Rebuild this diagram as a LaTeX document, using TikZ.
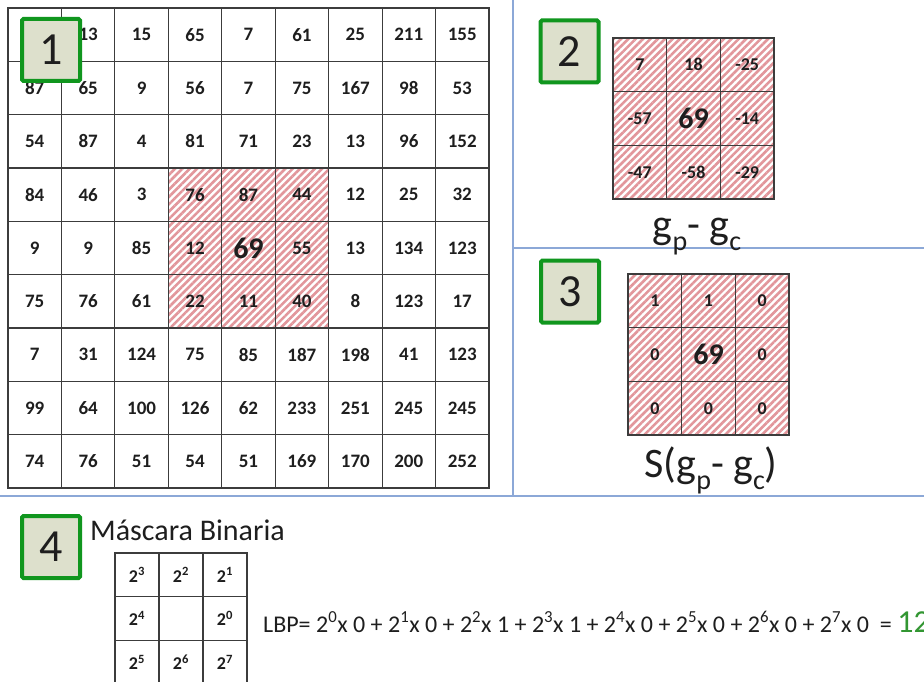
\documentclass[tikz,border=0pt]{standalone}
\usepackage{fontspec}
\setmainfont{Carlito}
\usetikzlibrary{patterns.meta}
\definecolor{gridline}{RGB}{60,60,60}
\definecolor{hatch}{RGB}{226,150,155}
\definecolor{sepblue}{RGB}{140,168,215}
\definecolor{labgreen}{RGB}{16,150,30}
\definecolor{labfill}{RGB}{221,224,204}
\definecolor{resgreen}{RGB}{50,150,50}
\definecolor{ink}{RGB}{30,30,30}
\newcommand\bignum[1]{{\fontsize{30}{30}\selectfont #1}}
\newcommand\pw[1]{2\textsuperscript{#1}}
\newcommand\lowsub[1]{\raisebox{-0.3em}{\fontsize{28}{28}\selectfont #1}}
\tikzset{
 cellA/.style={draw=gridline, line width=1.1pt, minimum width=53.44pt, minimum height=53.33pt, inner sep=0pt, text=ink, font=\fontsize{19}{19}\selectfont\bfseries},
 cellB/.style={draw=gridline, line width=1.1pt, minimum width=53.67pt, minimum height=53.67pt, inner sep=0pt, text=ink, font=\fontsize{18}{18}\selectfont\bfseries},
 cellC/.style={draw=gridline, line width=1.1pt, minimum width=44pt, minimum height=43.7pt, inner sep=0pt, text=ink, font=\fontsize{18}{18}\selectfont\bfseries},
 hatchfill/.style={pattern={Lines[angle=45,distance=5.2pt,line width=2.6pt]}, pattern color=hatch},
 labbox/.style={draw=labgreen, line width=4pt, fill=labfill, rounded corners=1.5pt, minimum width=58pt, minimum height=62pt, inner sep=0pt, text=ink, font=\fontsize{46}{46}\selectfont},
 sep/.style={draw=sepblue, line width=2pt},
 caption/.style={anchor=base, text=ink, inner sep=0pt, font=\fontsize{42}{42}\selectfont},
}
\begin{document}
\begin{tikzpicture}[x=1pt,y=-1pt]
\useasboundingbox (0,0) rectangle (924,682);
\clip (0,0) rectangle (924,682);
\fill[white] (0,0) rectangle (924,682);
% separators
\draw[sep] (513,0) -- (513,496);
\draw[sep] (513,248) -- (924,248);
\draw[sep] (0,496) -- (924,496);
% ---------- panel 1 ----------
\fill[hatchfill] (168.3,168) rectangle (328.6,328);
\foreach \row [count=\r] in {
 {,13,15,65,7,61,25,211,155},
 {87,65,9,56,7,75,167,98,53},
 {54,87,4,81,71,23,13,96,152},
 {84,46,3,76,87,44,12,25,32},
 {9,9,85,12,\bignum{69},55,13,134,123},
 {75,76,61,22,11,40,8,123,17},
 {7,31,124,75,85,187,198,41,123},
 {99,64,100,126,62,233,251,245,245},
 {74,76,51,54,51,169,170,200,252}}{
  \foreach \v [count=\c] in \row {
   \node[cellA] (A-\r-\c) at ({8+53.44*(\c-0.5)},{8+53.33*(\r-0.5)}) {\v};
  }
}
\node[labbox] (L1) at (51,50) {1};
% ---------- panel 2 ----------
\fill[hatchfill] (613,38) rectangle (774,199);
\foreach \row [count=\r] in {{7,18,-25},{-57,\bignum{69},-14},{-47,-58,-29}}{
  \foreach \v [count=\c] in \row {
   \node[cellB] (B-\r-\c) at ({613+53.67*(\c-0.5)},{38+53.67*(\r-0.5)}) {\v};
  }
}
\node[labbox] (L2) at (569.5,51.5) {2};
\node[caption] (cap2) at (697,238) {g\lowsub{p}- g\lowsub{c}};
% ---------- panel 3 ----------
\fill[hatchfill] (628,274) rectangle (789,435);
\foreach \row [count=\r] in {{1,1,0},{0,\bignum{69},0},{0,0,0}}{
  \foreach \v [count=\c] in \row {
   \node[cellB] (C-\r-\c) at ({628+53.67*(\c-0.5)},{274+53.67*(\r-0.5)}) {\v};
  }
}
\node[labbox] (L3) at (570,291.5) {3};
\node[caption] (cap3) at (711,477) {S(g\lowsub{p}- g\lowsub{c})};
% ---------- panel 4 ----------
\node[labbox] (L4) at (51,547) {4};
\node[anchor=base west, inner sep=0pt, text=ink, font=\fontsize{30}{30}\selectfont] (mask) at (90,540) {Máscara Binaria};
\foreach \row [count=\r] in {{\pw{3},\pw{2},\pw{1}},{\pw{4},,\pw{0}},{\pw{5},\pw{6},\pw{7}}}{
  \foreach \v [count=\c] in \row {
   \node[cellC] (D-\r-\c) at ({115+44*(\c-0.5)},{553+43.7*(\r-0.5)}) {\v};
  }
}
\node[anchor=base west, inner sep=0pt, text=ink, font=\fontsize{24}{24}\selectfont] (lbp) at (263,632)
 {LBP= \pw{0}x 0 + \pw{1}x 0 + \pw{2}x 1 + \pw{3}x 1 + \pw{4}x 0 + \pw{5}x 0 + \pw{6}x 0 + \pw{7}x 0\ \ = \textcolor{resgreen}{\fontsize{32}{32}\selectfont 12}};
\end{tikzpicture}
\end{document}
